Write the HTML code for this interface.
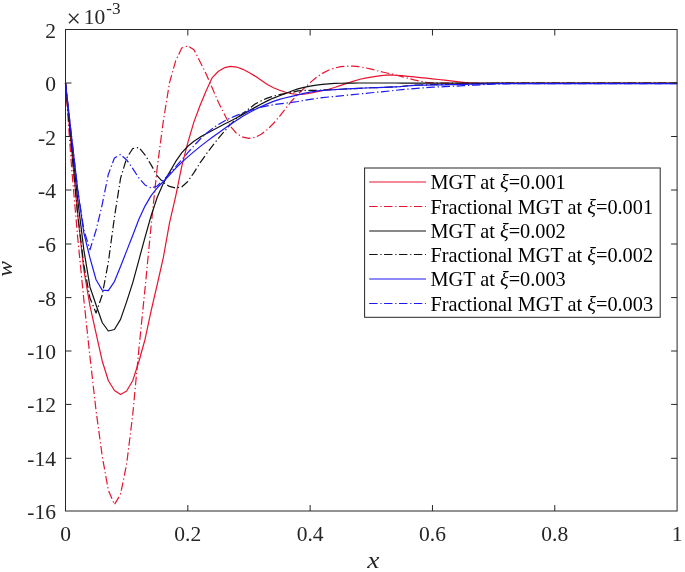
<!DOCTYPE html>
<html><head><meta charset="utf-8"><title>plot</title>
<style>
html,body{margin:0;padding:0;background:#fff;}
svg{display:block;}
text{font-family:"Liberation Serif","DejaVu Serif",serif;fill:#262626;}
.tk{font-size:21.5px;}
.lg{font-size:20.3px;fill:#000;}
</style></head><body>
<svg width="685" height="572" viewBox="0 0 685 572">
<rect width="685" height="572" fill="#fff"/>

<path d="M65.50 83.00 L71.62 149.96 L77.73 214.92 L83.85 269.91 L89.96 305.92 L96.08 333.41 L102.20 360.99 L108.31 380.53 L114.43 390.53 L120.54 394.60 L126.66 390.94 L132.78 380.45 L138.89 361.53 L145.01 339.47 L151.12 310.85 L157.24 284.51 L163.36 257.44 L169.47 223.19 L175.59 196.55 L181.70 166.61 L187.82 142.56 L193.94 121.90 L200.05 105.57 L206.17 90.79 L212.28 77.56 L218.40 71.22 L224.52 67.65 L230.63 66.42 L236.75 67.05 L242.86 69.32 L248.98 72.51 L255.10 76.11 L261.21 80.35 L267.33 84.44 L273.44 87.79 L279.56 90.25 L285.68 92.22 L291.79 93.67 L297.91 94.50 L304.02 94.27 L310.14 93.25 L316.26 91.83 L322.37 90.62 L328.49 89.28 L334.60 87.53 L340.72 85.39 L346.84 83.33 L352.95 81.34 L359.07 79.51 L365.18 78.14 L371.30 77.06 L377.42 76.17 L383.53 75.36 L389.65 74.93 L395.76 75.23 L401.88 75.71 L408.00 76.28 L414.11 76.92 L420.23 77.53 L426.34 78.17 L432.46 78.82 L438.58 79.48 L444.69 80.18 L450.81 80.92 L456.92 81.64 L463.04 82.30 L469.16 82.87 L475.27 83.15 L481.39 83.30 L487.50 83.30 L493.62 83.30 L499.74 83.30 L505.85 83.30 L511.97 83.30 L518.08 83.30 L524.20 83.30 L530.32 83.30 L536.43 83.30 L542.55 83.30 L548.66 83.30 L554.78 83.30 L560.90 83.30 L567.01 83.30 L573.13 83.30 L579.24 83.30 L585.36 83.30 L591.48 83.30 L597.59 83.30 L603.71 83.30 L609.82 83.30 L615.94 83.30 L622.06 83.30 L628.17 83.30 L634.29 83.30 L640.40 83.30 L646.52 83.30 L652.64 83.30 L658.75 83.30 L664.87 83.30 L670.98 83.30 L677.10 83.30" fill="none" stroke="#e8142f" stroke-width="1.2" stroke-linejoin="round"/>
<path d="M65.50 83.00 L71.62 167.95 L77.73 237.91 L83.85 299.88 L89.96 356.86 L96.08 410.84 L102.20 455.97 L108.31 490.04 L114.43 504.50 L120.54 494.39 L126.66 464.00 L132.78 414.22 L138.89 349.08 L145.01 288.93 L151.12 225.76 L157.24 167.34 L163.36 120.81 L169.47 82.92 L175.59 61.06 L181.70 48.02 L187.82 45.90 L193.94 49.68 L200.05 61.66 L206.17 74.01 L212.28 88.05 L218.40 102.34 L224.52 114.43 L230.63 126.55 L236.75 133.70 L242.86 137.20 L248.98 138.39 L255.10 137.41 L261.21 134.25 L267.33 129.60 L273.44 123.49 L279.56 116.34 L285.68 108.36 L291.79 100.73 L297.91 94.11 L304.02 88.33 L310.14 82.64 L316.26 77.54 L322.37 73.38 L328.49 70.21 L334.60 68.03 L340.72 66.68 L346.84 66.10 L352.95 66.10 L359.07 66.67 L365.18 67.77 L371.30 69.11 L377.42 70.75 L383.53 72.24 L389.65 73.65 L395.76 75.02 L401.88 76.59 L408.00 78.33 L414.11 79.85 L420.23 81.17 L426.34 82.34 L432.46 82.89 L438.58 83.16 L444.69 83.19 L450.81 83.21 L456.92 83.23 L463.04 83.25 L469.16 83.27 L475.27 83.29 L481.39 83.30 L487.50 83.30 L493.62 83.30 L499.74 83.30 L505.85 83.30 L511.97 83.30 L518.08 83.30 L524.20 83.30 L530.32 83.30 L536.43 83.30 L542.55 83.30 L548.66 83.30 L554.78 83.30 L560.90 83.30 L567.01 83.30 L573.13 83.30 L579.24 83.30 L585.36 83.30 L591.48 83.30 L597.59 83.30 L603.71 83.30 L609.82 83.30 L615.94 83.30 L622.06 83.30 L628.17 83.30 L634.29 83.30 L640.40 83.30 L646.52 83.30 L652.64 83.30 L658.75 83.30 L664.87 83.30 L670.98 83.30 L677.10 83.30" fill="none" stroke="#e8142f" stroke-width="1.2" stroke-linejoin="round" stroke-dasharray="8.5 2.8 1.3 2.6"/>
<path d="M65.50 83.00 L71.62 142.96 L77.73 199.93 L83.85 249.92 L89.96 286.94 L96.08 304.94 L102.20 322.49 L108.31 331.00 L114.43 329.49 L120.54 319.41 L126.66 301.62 L132.78 282.61 L138.89 260.08 L145.01 237.29 L151.12 215.73 L157.24 197.21 L163.36 183.28 L169.47 172.34 L175.59 161.68 L181.70 152.83 L187.82 146.27 L193.94 141.28 L200.05 137.13 L206.17 133.66 L212.28 130.48 L218.40 127.26 L224.52 124.09 L230.63 120.91 L236.75 117.72 L242.86 114.40 L248.98 110.86 L255.10 107.37 L261.21 104.06 L267.33 100.88 L273.44 98.07 L279.56 95.69 L285.68 93.45 L291.79 90.96 L297.91 88.91 L304.02 87.35 L310.14 86.09 L316.26 85.11 L322.37 84.35 L328.49 83.81 L334.60 83.40 L340.72 83.23 L346.84 83.13 L352.95 83.05 L359.07 83.01 L365.18 83.00 L371.30 83.00 L377.42 83.00 L383.53 83.01 L389.65 83.01 L395.76 83.02 L401.88 83.03 L408.00 83.04 L414.11 83.05 L420.23 83.06 L426.34 83.07 L432.46 83.08 L438.58 83.09 L444.69 83.10 L450.81 83.11 L456.92 83.12 L463.04 83.12 L469.16 83.13 L475.27 83.14 L481.39 83.15 L487.50 83.15 L493.62 83.15 L499.74 83.15 L505.85 83.15 L511.97 83.15 L518.08 83.15 L524.20 83.15 L530.32 83.15 L536.43 83.15 L542.55 83.15 L548.66 83.15 L554.78 83.15 L560.90 83.15 L567.01 83.15 L573.13 83.15 L579.24 83.15 L585.36 83.15 L591.48 83.15 L597.59 83.15 L603.71 83.15 L609.82 83.15 L615.94 83.15 L622.06 83.15 L628.17 83.15 L634.29 83.15 L640.40 83.15 L646.52 83.15 L652.64 83.15 L658.75 83.15 L664.87 83.15 L670.98 83.15 L677.10 83.15" fill="none" stroke="#111111" stroke-width="1.2" stroke-linejoin="round"/>
<path d="M65.50 83.00 L71.62 149.96 L77.73 214.93 L83.85 264.92 L89.96 297.95 L96.08 313.00 L102.20 295.02 L108.31 262.43 L114.43 217.31 L120.54 178.31 L126.66 158.08 L132.78 148.51 L138.89 147.50 L145.01 154.87 L151.12 164.87 L157.24 175.92 L163.36 182.49 L169.47 186.44 L175.59 187.98 L181.70 186.96 L187.82 181.52 L193.94 172.61 L200.05 162.95 L206.17 154.22 L212.28 146.04 L218.40 138.34 L224.52 131.05 L230.63 124.33 L236.75 118.33 L242.86 113.48 L248.98 108.73 L255.10 104.05 L261.21 100.76 L267.33 98.13 L273.44 96.14 L279.56 94.62 L285.68 93.39 L291.79 92.50 L297.91 90.81 L304.02 90.45 L310.14 90.33 L316.26 90.28 L322.37 90.19 L328.49 89.94 L334.60 89.59 L340.72 89.26 L346.84 88.96 L352.95 88.65 L359.07 88.33 L365.18 88.01 L371.30 87.75 L377.42 87.57 L383.53 87.40 L389.65 87.15 L395.76 86.81 L401.88 86.38 L408.00 85.73 L414.11 85.19 L420.23 84.98 L426.34 84.83 L432.46 84.72 L438.58 84.62 L444.69 84.52 L450.81 84.39 L456.92 84.22 L463.04 84.04 L469.16 83.85 L475.27 83.68 L481.39 83.53 L487.50 83.40 L493.62 83.28 L499.74 83.18 L505.85 83.15 L511.97 83.15 L518.08 83.15 L524.20 83.15 L530.32 83.15 L536.43 83.15 L542.55 83.15 L548.66 83.15 L554.78 83.15 L560.90 83.15 L567.01 83.15 L573.13 83.15 L579.24 83.15 L585.36 83.15 L591.48 83.15 L597.59 83.15 L603.71 83.15 L609.82 83.15 L615.94 83.15 L622.06 83.15 L628.17 83.15 L634.29 83.15 L640.40 83.15 L646.52 83.15 L652.64 83.15 L658.75 83.15 L664.87 83.15 L670.98 83.15 L677.10 83.15" fill="none" stroke="#111111" stroke-width="1.2" stroke-linejoin="round" stroke-dasharray="8.5 2.8 1.3 2.6"/>
<path d="M65.50 83.00 L71.62 136.97 L77.73 189.94 L83.85 232.94 L89.96 257.94 L96.08 279.75 L102.20 290.10 L108.31 290.70 L114.43 281.55 L120.54 266.49 L126.66 250.90 L132.78 235.26 L138.89 219.32 L145.01 206.12 L151.12 195.62 L157.24 187.86 L163.36 181.53 L169.47 175.10 L175.59 168.37 L181.70 162.36 L187.82 156.89 L193.94 151.66 L200.05 146.66 L206.17 141.87 L212.28 137.33 L218.40 132.94 L224.52 128.57 L230.63 124.28 L236.75 120.19 L242.86 116.29 L248.98 112.78 L255.10 109.56 L261.21 106.64 L267.33 103.87 L273.44 101.37 L279.56 99.35 L285.68 97.77 L291.79 96.34 L297.91 94.83 L304.02 93.31 L310.14 92.15 L316.26 91.18 L322.37 90.47 L328.49 89.98 L334.60 89.60 L340.72 89.25 L346.84 88.94 L352.95 88.65 L359.07 88.33 L365.18 88.01 L371.30 87.75 L377.42 87.57 L383.53 87.41 L389.65 87.19 L395.76 86.88 L401.88 86.48 L408.00 85.85 L414.11 85.35 L420.23 85.16 L426.34 85.04 L432.46 84.95 L438.58 84.88 L444.69 84.81 L450.81 84.70 L456.92 84.57 L463.04 84.41 L469.16 84.26 L475.27 84.11 L481.39 83.98 L487.50 83.85 L493.62 83.73 L499.74 83.63 L505.85 83.60 L511.97 83.60 L518.08 83.60 L524.20 83.60 L530.32 83.60 L536.43 83.60 L542.55 83.60 L548.66 83.60 L554.78 83.60 L560.90 83.60 L567.01 83.60 L573.13 83.60 L579.24 83.60 L585.36 83.60 L591.48 83.60 L597.59 83.60 L603.71 83.60 L609.82 83.60 L615.94 83.60 L622.06 83.60 L628.17 83.60 L634.29 83.60 L640.40 83.60 L646.52 83.60 L652.64 83.60 L658.75 83.60 L664.87 83.60 L670.98 83.60 L677.10 83.60" fill="none" stroke="#1c18f0" stroke-width="1.2" stroke-linejoin="round"/>
<path d="M65.50 83.00 L71.62 136.97 L77.73 189.94 L83.85 229.95 L89.96 249.70 L96.08 230.07 L102.20 204.52 L108.31 174.46 L114.43 157.97 L120.54 154.50 L126.66 159.96 L132.78 168.66 L138.89 177.99 L145.01 184.94 L151.12 188.00 L157.24 186.03 L163.36 180.05 L169.47 173.60 L175.59 166.87 L181.70 159.82 L187.82 152.73 L193.94 145.73 L200.05 139.25 L206.17 133.46 L212.28 128.63 L218.40 124.50 L224.52 120.93 L230.63 117.91 L236.75 115.34 L242.86 113.05 L248.98 110.92 L255.10 108.81 L261.21 107.11 L267.33 105.81 L273.44 104.71 L279.56 103.80 L285.68 103.09 L291.79 102.41 L297.91 101.52 L304.02 100.43 L310.14 99.43 L316.26 98.48 L322.37 97.66 L328.49 97.01 L334.60 96.43 L340.72 95.83 L346.84 95.22 L352.95 94.60 L359.07 93.99 L365.18 93.38 L371.30 92.77 L377.42 92.17 L383.53 91.58 L389.65 90.95 L395.76 90.26 L401.88 89.64 L408.00 89.09 L414.11 88.58 L420.23 88.09 L426.34 87.62 L432.46 87.22 L438.58 86.92 L444.69 86.66 L450.81 86.38 L456.92 86.03 L463.04 85.67 L469.16 85.35 L475.27 85.05 L481.39 84.77 L487.50 84.49 L493.62 84.22 L499.74 84.01 L505.85 83.84 L511.97 83.69 L518.08 83.61 L524.20 83.60 L530.32 83.60 L536.43 83.60 L542.55 83.60 L548.66 83.60 L554.78 83.60 L560.90 83.60 L567.01 83.60 L573.13 83.60 L579.24 83.60 L585.36 83.60 L591.48 83.60 L597.59 83.60 L603.71 83.60 L609.82 83.60 L615.94 83.60 L622.06 83.60 L628.17 83.60 L634.29 83.60 L640.40 83.60 L646.52 83.60 L652.64 83.60 L658.75 83.60 L664.87 83.60 L670.98 83.60 L677.10 83.60" fill="none" stroke="#1c18f0" stroke-width="1.2" stroke-linejoin="round" stroke-dasharray="8.5 2.8 1.3 2.6"/>
<rect x="65.5" y="29.5" width="611.6" height="481.5" fill="none" stroke="#262626" stroke-width="1"/>
<path d="M187.82 511.0v-6M187.82 29.5v6M310.14 511.0v-6M310.14 29.5v6M432.46 511.0v-6M432.46 29.5v6M554.78 511.0v-6M554.78 29.5v6M65.5 83.0h6M677.1 83.0h-6M65.5 136.5h6M677.1 136.5h-6M65.5 190.0h6M677.1 190.0h-6M65.5 244.0h6M677.1 244.0h-6M65.5 297.6h6M677.1 297.6h-6M65.5 351.0h6M677.1 351.0h-6M65.5 404.4h6M677.1 404.4h-6M65.5 458.3h6M677.1 458.3h-6" stroke="#262626" stroke-width="1" fill="none"/>
<text class="tk" x="65.5" y="541" text-anchor="middle">0</text>
<text class="tk" x="187.8" y="541" text-anchor="middle">0.2</text>
<text class="tk" x="310.1" y="541" text-anchor="middle">0.4</text>
<text class="tk" x="432.5" y="541" text-anchor="middle">0.6</text>
<text class="tk" x="554.8" y="541" text-anchor="middle">0.8</text>
<text class="tk" x="677.1" y="541" text-anchor="middle">1</text>
<text class="tk" x="56" y="37.5" text-anchor="end">2</text>
<text class="tk" x="56" y="91.0" text-anchor="end">0</text>
<text class="tk" x="56" y="144.5" text-anchor="end">-2</text>
<text class="tk" x="56" y="198.0" text-anchor="end">-4</text>
<text class="tk" x="56" y="252.0" text-anchor="end">-6</text>
<text class="tk" x="56" y="305.6" text-anchor="end">-8</text>
<text class="tk" x="56" y="359.0" text-anchor="end">-10</text>
<text class="tk" x="56" y="412.4" text-anchor="end">-12</text>
<text class="tk" x="56" y="466.3" text-anchor="end">-14</text>
<text class="tk" x="56" y="519.0" text-anchor="end">-16</text>
<text x="66.5" y="27" font-size="25.5px">×</text><text class="tk" x="83.7" y="24.2">10<tspan font-size="17.2px" dy="-10.5" dx="1">-3</tspan></text>
<text x="0" y="0" text-anchor="middle" font-size="22.3px" font-style="italic" transform="translate(373.3 568) scale(1.23 1)">x</text>
<text x="0" y="0" text-anchor="middle" font-size="21.5px" font-style="italic" transform="translate(11.5 268.8) rotate(-90) scale(1.1 1)">w</text>
<rect x="364.6" y="168.0" width="295.6" height="149.3" fill="#fff" stroke="#262626" stroke-width="1"/>
<path d="M369.2 182.0H426" stroke="#e8142f" stroke-width="1" fill="none"/>
<text class="lg" x="430.5" y="189.2">MGT at <tspan font-style="italic">ξ</tspan>=0.001</text>
<path d="M369.2 206.5H426" stroke="#e8142f" stroke-width="1" fill="none" stroke-dasharray="8.4 2.8 1.2 2.5"/>
<text class="lg" x="430.5" y="213.7">Fractional MGT at <tspan font-style="italic">ξ</tspan>=0.001</text>
<path d="M369.2 231.0H426" stroke="#111" stroke-width="1" fill="none"/>
<text class="lg" x="430.5" y="238.2">MGT at <tspan font-style="italic">ξ</tspan>=0.002</text>
<path d="M369.2 254.5H426" stroke="#111" stroke-width="1" fill="none" stroke-dasharray="8.4 2.8 1.2 2.5"/>
<text class="lg" x="430.5" y="261.7">Fractional MGT at <tspan font-style="italic">ξ</tspan>=0.002</text>
<path d="M369.2 279.0H426" stroke="#1c18f0" stroke-width="1" fill="none"/>
<text class="lg" x="430.5" y="286.2">MGT at <tspan font-style="italic">ξ</tspan>=0.003</text>
<path d="M369.2 303.5H426" stroke="#1c18f0" stroke-width="1" fill="none" stroke-dasharray="8.4 2.8 1.2 2.5"/>
<text class="lg" x="430.5" y="310.7">Fractional MGT at <tspan font-style="italic">ξ</tspan>=0.003</text>
</svg></body></html>
